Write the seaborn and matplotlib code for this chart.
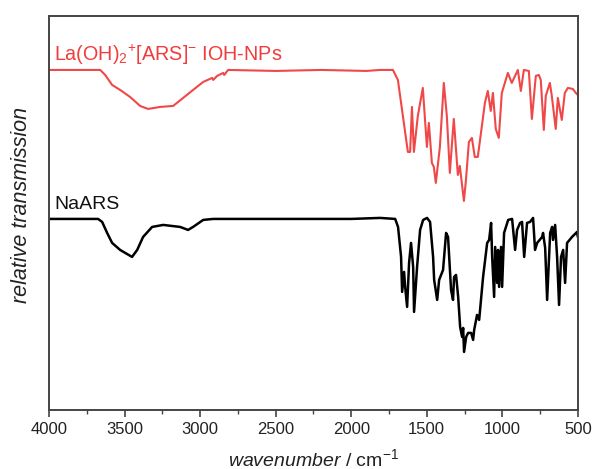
import numpy as np
import pandas as pd
import matplotlib
matplotlib.use("Agg")
import matplotlib.pyplot as plt
from matplotlib.ticker import MultipleLocator
import seaborn as sns

# ---- data (wavenumber in cm^-1, relative transmission in arbitrary units) ----
la_wn = [4000, 3662, 3629, 3583, 3530, 3464, 3398, 3345, 3265, 3179, 3113, 3047,
         2980, 2921, 2914, 2888, 2848, 2841, 2815, 2500, 2200, 1900, 1809, 1724,
         1691, 1658, 1625, 1610, 1598, 1585, 1559, 1526, 1499, 1486, 1466, 1453,
         1440, 1413, 1387, 1367, 1347, 1321, 1294, 1281, 1254, 1241, 1221, 1201,
         1182, 1162, 1115, 1096, 1076, 1062, 1043, 1023, 1003, 963, 937, 897, 877,
         857, 824, 804, 778, 758, 745, 725, 712, 685, 672, 646, 632, 606, 586,
         566, 533, 513, 500]
la_tr = [340, 340, 335, 325, 320, 313, 304, 301, 303, 304, 312, 320,
         328, 332, 330, 334, 337, 335, 340, 339, 340, 339, 340, 340,
         330, 294, 258, 258, 303, 258, 294, 322, 263, 287, 247, 243,
         227, 263, 327, 294, 237, 291, 235, 244, 209, 229, 268, 272,
         253, 253, 307, 319, 299, 317, 281, 272, 317, 337, 327, 340, 319,
         340, 339, 291, 334, 335, 330, 280, 314, 327, 314, 281, 312, 290, 317,
         322, 321, 317, 315]

na_wn = [4000, 3676, 3649, 3616, 3583, 3530, 3451, 3417, 3378, 3318, 3245, 3133,
         3080, 3047, 2980, 2914, 2500, 2000, 1809, 1709, 1690, 1670, 1663, 1650,
         1643, 1630, 1617, 1604, 1590, 1584, 1564, 1544, 1524, 1498, 1478, 1458,
         1451, 1431, 1418, 1392, 1372, 1359, 1339, 1326, 1319, 1306, 1292, 1279,
         1266, 1259, 1253, 1239, 1226, 1206, 1193, 1186, 1167, 1153, 1127, 1100,
         1087, 1074, 1067, 1054, 1047, 1034, 1028, 1021, 1008, 1001, 988, 961,
         935, 915, 902, 882, 869, 855, 836, 816, 796, 783, 769, 736, 730, 716,
         703, 683, 670, 664, 650, 637, 624, 611, 597, 584, 571, 538, 505, 500]
na_tr = [191, 191, 188, 177, 167, 160, 153, 160, 173, 183, 185, 183,
         180, 183, 190, 191, 191, 191, 192, 191, 183, 153, 118, 138,
         123, 103, 147, 167, 143, 98, 143, 180, 190, 192, 188, 153,
         130, 110, 130, 140, 177, 173, 120, 110, 133, 135, 113, 83,
         73, 82, 58, 73, 77, 77, 70, 80, 95, 90, 133, 167,
         170, 187, 153, 113, 163, 127, 160, 123, 163, 123, 177, 190,
         191, 160, 180, 187, 188, 153, 187, 188, 192, 160, 167, 173, 177, 162,
         110, 177, 183, 170, 185, 153, 105, 153, 160, 127, 167, 173, 178, 173]

x_ticks = [4000, 3500, 3000, 2500, 2000, 1500, 1000, 500]
label_la = r"La(OH)$_2$$^{+}$[ARS]$^{-}$ IOH-NPs"
label_na = "NaARS"

# ---- styling ----
sns.set_style("white")
plt.rcParams['font.family'] = ['Liberation Sans', 'DejaVu Sans']
plt.rcParams['mathtext.fontset'] = 'custom'
plt.rcParams['mathtext.rm'] = 'Liberation Sans'
plt.rcParams['mathtext.it'] = 'Liberation Sans:italic'

df_la = pd.DataFrame({"wn": la_wn, "tr": la_tr})
df_na = pd.DataFrame({"wn": na_wn, "tr": na_tr})

fig = plt.figure(figsize=(5.92, 4.69), dpi=100)
ax = fig.add_axes([0.083, 0.126, 0.893, 0.840])

sns.lineplot(data=df_la, x="wn", y="tr", ax=ax, color="#f04848", linewidth=1.5,
             estimator=None, sort=False)
sns.lineplot(data=df_na, x="wn", y="tr", ax=ax, color="black", linewidth=1.8,
             estimator=None, sort=False)

ax.set_xlim(4000, 500)
ax.set_ylim(0, 394)
ax.set_xticks(x_ticks)
ax.set_xticklabels([str(t) for t in x_ticks])
ax.xaxis.set_minor_locator(MultipleLocator(250))
ax.set_yticks([])
ax.tick_params(axis='x', which='major', direction='out', length=5, width=1.2,
               color='#444444', labelsize=12, bottom=True, top=False, pad=4,
               labelcolor='#222222')
ax.tick_params(axis='x', which='minor', direction='out', length=3, width=1.0,
               color='#444444', bottom=True, top=False)
for s in ax.spines.values():
    s.set_color('#444444')
    s.set_linewidth(1.4)

ax.set_xlabel(r"$\mathit{wavenumber}$ / cm$^{-1}$", fontsize=14, labelpad=8,
              color='#222222')
ax.set_ylabel("relative transmission", fontsize=15.5, style='italic',
              color='#222222')
ax.yaxis.set_label_coords(-0.033, 0.52)

ax.text(3967, 349, label_la, color="#f03c3c", fontsize=14.2, ha='left', va='baseline')
ax.text(3967, 201, label_na, color="#111111", fontsize=14, ha='left', va='baseline')

fig.savefig("out.png", dpi=100)
